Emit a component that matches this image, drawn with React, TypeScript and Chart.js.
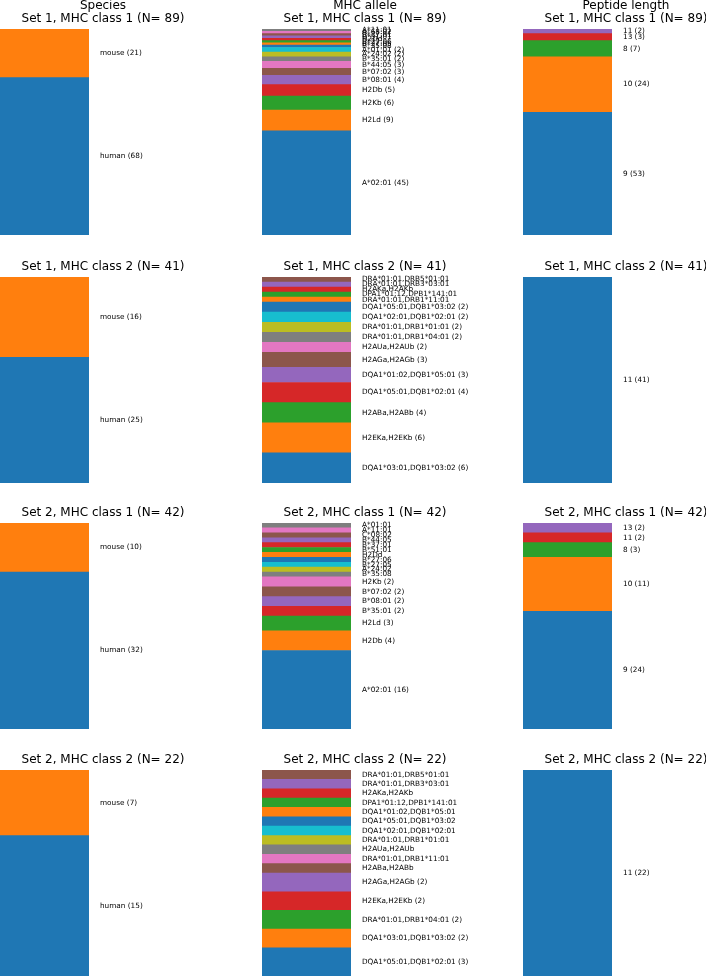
import React, { useEffect, useRef } from "react";
import { Chart, registerables } from "chart.js";

Chart.register(...registerables);

const TAB10 = ["#1f77b4", "#ff7f0e", "#2ca02c", "#d62728", "#9467bd", "#8c564b", "#e377c2", "#7f7f7f", "#bcbd22", "#17becf"];

const columnTitles = ["Species", "MHC allele", "Peptide length"];
const rowTitles = ["Set 1, MHC class 1", "Set 1, MHC class 2", "Set 2, MHC class 1", "Set 2, MHC class 2"];

// Species
const speciesNames = ["human", "mouse"];
const speciesS1C1 = [68, 21];
const speciesS1C2 = [25, 16];
const speciesS2C1 = [32, 10];
const speciesS2C2 = [15, 7];

// MHC allele
const alleleS1C1Names = ["A*02:01", "H2Ld", "H2Kb", "H2Db", "B*08:01", "B*07:02", "B*44:05", "B*35:01", "A*24:02", "A*01:01", "B*35:08", "B*27:05", "B*27:06", "H2Dd", "B*51:01", "B*37:01", "A*68:02", "A*11:01"];
const alleleS1C1Counts = [45, 9, 6, 5, 4, 3, 3, 2, 2, 2, 1, 1, 1, 1, 1, 1, 1, 1];

const alleleS1C2Names = ["DQA1*03:01,DQB1*03:02", "H2EKa,H2EKb", "H2ABa,H2ABb", "DQA1*05:01,DQB1*02:01", "DQA1*01:02,DQB1*05:01", "H2AGa,H2AGb", "H2AUa,H2AUb", "DRA*01:01,DRB1*04:01", "DRA*01:01,DRB1*01:01", "DQA1*02:01,DQB1*02:01", "DQA1*05:01,DQB1*03:02", "DRA*01:01,DRB1*11:01", "DPA1*01:12,DPB1*141:01", "H2AKa,H2AKb", "DRA*01:01,DRB3*03:01", "DRA*01:01,DRB5*01:01"];
const alleleS1C2Counts = [6, 6, 4, 4, 3, 3, 2, 2, 2, 2, 2, 1, 1, 1, 1, 1];

const alleleS2C1Names = ["A*02:01", "H2Db", "H2Ld", "B*35:01", "B*08:01", "B*07:02", "H2Kb", "B*35:08", "A*24:02", "B*27:05", "B*27:06", "H2Dd", "B*51:01", "B*37:01", "B*44:05", "C*08:02", "A*11:01", "A*01:01"];
const alleleS2C1Counts = [16, 4, 3, 2, 2, 2, 2, 1, 1, 1, 1, 1, 1, 1, 1, 1, 1, 1];

const alleleS2C2Names = ["DQA1*05:01,DQB1*02:01", "DQA1*03:01,DQB1*03:02", "DRA*01:01,DRB1*04:01", "H2EKa,H2EKb", "H2AGa,H2AGb", "H2ABa,H2ABb", "DRA*01:01,DRB1*11:01", "H2AUa,H2AUb", "DRA*01:01,DRB1*01:01", "DQA1*02:01,DQB1*02:01", "DQA1*05:01,DQB1*03:02", "DQA1*01:02,DQB1*05:01", "DPA1*01:12,DPB1*141:01", "H2AKa,H2AKb", "DRA*01:01,DRB3*03:01", "DRA*01:01,DRB5*01:01"];
const alleleS2C2Counts = [3, 2, 2, 2, 2, 1, 1, 1, 1, 1, 1, 1, 1, 1, 1, 1];

// Peptide length
const lengthS1C1Names = ["9", "10", "8", "13", "11"];
const lengthS1C1Counts = [53, 24, 7, 3, 2];
const lengthS1C2Names = ["11"];
const lengthS1C2Counts = [41];
const lengthS2C1Names = ["9", "10", "8", "11", "13"];
const lengthS2C1Counts = [24, 11, 3, 2, 2];
const lengthS2C2Names = ["11"];
const lengthS2C2Counts = [22];

type Panel = { names: string[]; counts: number[] };

const panels: Panel[][] = [
  [
    { names: speciesNames, counts: speciesS1C1 },
    { names: alleleS1C1Names, counts: alleleS1C1Counts },
    { names: lengthS1C1Names, counts: lengthS1C1Counts },
  ],
  [
    { names: speciesNames, counts: speciesS1C2 },
    { names: alleleS1C2Names, counts: alleleS1C2Counts },
    { names: lengthS1C2Names, counts: lengthS1C2Counts },
  ],
  [
    { names: speciesNames, counts: speciesS2C1 },
    { names: alleleS2C1Names, counts: alleleS2C1Counts },
    { names: lengthS2C1Names, counts: lengthS2C1Counts },
  ],
  [
    { names: speciesNames, counts: speciesS2C2 },
    { names: alleleS2C2Names, counts: alleleS2C2Counts },
    { names: lengthS2C2Names, counts: lengthS2C2Counts },
  ],
];

const COL_LEFT = [0, 262, 523];
const ROW_BAR_TOP = [29, 277, 523, 770];
const CANVAS_W = 250;
const AXES_W = 206;
const BAR_W = 89;
const TITLE_H = 40;
const BAR_H = 206;

function PanelChart({ row, col }: { row: number; col: number }) {
  const ref = useRef<HTMLCanvasElement>(null);
  useEffect(() => {
    if (!ref.current) return;
    const p = panels[row][col];
    const total = p.counts.reduce((a, b) => a + b, 0);
    const titleLines =
      row === 0
        ? [columnTitles[col], `${rowTitles[row]} (N= ${total})`]
        : [`${rowTitles[row]} (N= ${total})`];

    const labelPlugin = {
      id: "panelLabels",
      afterDraw(chart: any) {
        const ctx = chart.ctx as CanvasRenderingContext2D;
        const yScale = chart.scales.y;
        const area = chart.chartArea;
        ctx.save();
        ctx.fillStyle = "#000";
        ctx.font = '12px "DejaVu Sans"';
        ctx.textAlign = "center";
        ctx.textBaseline = "alphabetic";
        const cx = AXES_W / 2;
        for (let i = 0; i < titleLines.length; i++) {
          const baseline = area.top - 7 - (titleLines.length - 1 - i) * 13;
          ctx.fillText(titleLines[i], cx, baseline);
        }
        ctx.font = '7.3px "DejaVu Sans"';
        ctx.textAlign = "left";
        ctx.textBaseline = "middle";
        let cum = 0;
        p.counts.forEach((c, i) => {
          const mid = yScale.getPixelForValue(cum + c / 2);
          cum += c;
          const txt = c > 1 ? `${p.names[i]} (${c})` : p.names[i];
          ctx.fillText(txt, area.right + 11, mid);
        });
        ctx.restore();
      },
    };

    const chart = new Chart(ref.current, {
      type: "bar",
      data: {
        labels: [""],
        datasets: p.counts.map((c, i) => ({
          label: p.names[i],
          data: [c],
          backgroundColor: TAB10[i % 10],
          borderWidth: 0,
          barPercentage: 1,
          categoryPercentage: 1,
          stack: "s",
        })),
      },
      options: {
        responsive: false,
        animation: false,
        layout: { padding: { left: 0, right: CANVAS_W - BAR_W, top: TITLE_H, bottom: 0 } },
        scales: {
          x: { stacked: true, display: false },
          y: { stacked: true, display: false, min: 0, max: total },
        },
        plugins: {
          legend: { display: false },
          tooltip: { enabled: false },
          title: { display: false },
        },
      },
      plugins: [labelPlugin],
    });
    return () => chart.destroy();
  }, [row, col]);

  return (
    <canvas
      ref={ref}
      width={CANVAS_W}
      height={TITLE_H + BAR_H}
      style={{
        position: "absolute",
        left: COL_LEFT[col],
        top: ROW_BAR_TOP[row] - TITLE_H,
        width: CANVAS_W,
        height: TITLE_H + BAR_H,
        display: "block",
      }}
    />
  );
}

export default function App() {
  const cells: React.ReactNode[] = [];
  for (let r = 0; r < 4; r++) {
    for (let c = 0; c < 3; c++) {
      cells.push(<PanelChart key={`${r}-${c}`} row={r} col={c} />);
    }
  }
  return (
    <div
      style={{
        position: "absolute",
        left: 0,
        top: 0,
        width: 706,
        height: 976,
        overflow: "hidden",
        background: "#fff",
      }}
    >
      {cells}
    </div>
  );
}
